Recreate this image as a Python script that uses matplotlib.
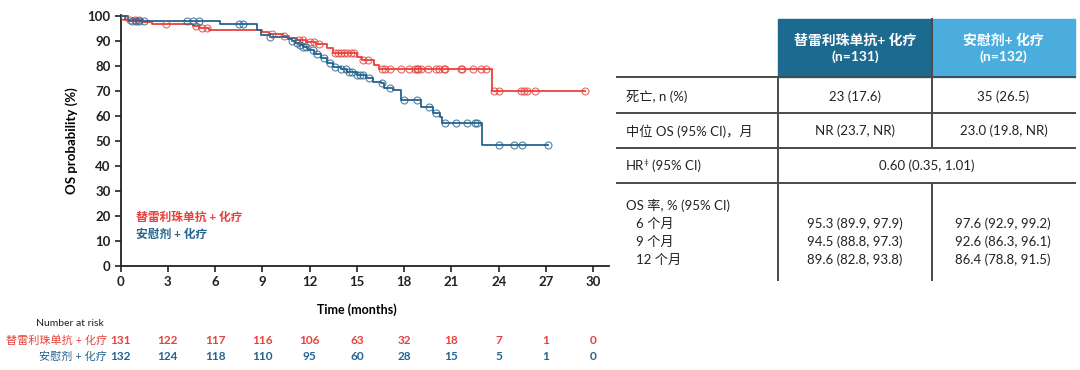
import numpy as np
import matplotlib
matplotlib.use("Agg")
import matplotlib.pyplot as plt
from matplotlib.patches import Rectangle
from matplotlib.lines import Line2D
import matplotlib.transforms as mtransforms

plt.rcParams['font.family'] = ['Lato', 'Noto Sans CJK SC', 'DejaVu Sans']

# KM step data (months, OS %)
tis_t = [0, 0.3, 1.4, 2.0, 4.6, 5.0, 5.6, 9.0, 9.4, 10.3, 10.7, 11.2, 11.8, 12.4,
         13.1, 13.5, 15.0, 15.3, 16.1, 16.4, 23.6]
tis_s = [100, 98.5, 97.7, 96.9, 96.1, 95.3, 94.5, 93.7, 92.9, 92.1, 91.3, 90.5, 89.6, 88.8,
         87.2, 85.2, 83.8, 82.4, 80.6, 78.8, 70.2]
tis_end = 29.5
tis_cens = [0.2, 0.6, 0.9, 1.2, 2.9, 4.8, 5.2, 5.5, 9.6, 10.4, 11.3, 11.6, 12.0, 12.3, 12.6,
            13.6, 13.8, 14.0, 14.2, 14.4, 14.6, 14.8, 15.4, 15.7, 16.6, 16.8, 17.1, 17.8, 18.3,
            18.7, 18.8, 18.9, 19.1, 19.5, 20.0, 20.2, 20.5, 20.6, 21.6, 21.7, 22.4, 22.9, 23.2,
            23.7, 24.0, 25.4, 25.6, 25.8, 26.3, 29.5]

pla_t = [0, 0.5, 6.3, 8.65, 8.9, 9.5, 10.6, 10.9, 11.1, 11.3, 11.6, 11.9, 12.3, 12.7, 13.1,
         13.5, 14.0, 14.4, 15.0, 15.6, 16.0, 16.5, 16.7, 17.3, 17.8, 19.1, 19.8, 20.3, 20.4, 22.95]
pla_s = [100, 98.1, 96.7, 94.4, 92.6, 91.6, 90.8, 90.0, 89.2, 88.4, 87.5, 86.4, 85.0, 83.1, 81.1,
         79.7, 79.0, 77.7, 76.4, 75.1, 73.7, 73.1, 71.1, 70.4, 66.4, 63.7, 61.1, 59.7, 57.1, 48.4]
pla_end = 27.1
pla_cens = [0.1, 0.7, 1.0, 1.2, 1.5, 4.2, 4.6, 5.0, 7.5, 7.8, 9.5, 10.9, 11.2, 11.4, 11.6, 11.8,
            12.2, 12.5, 12.9, 13.3, 13.6, 14.0, 14.3, 14.5, 14.7, 15.0, 15.2, 15.4, 15.8, 16.6,
            17.1, 18.0, 18.8, 19.6, 20.0, 20.6, 21.3, 22.0, 22.5, 22.6, 24.0, 25.0, 25.5, 27.1]

risk_times = [0, 3, 6, 9, 12, 15, 18, 21, 24, 27, 30]
risk_tis = [131, 122, 117, 116, 106, 63, 32, 18, 7, 1, 0]
risk_pla = [132, 124, 118, 110, 95, 60, 28, 15, 5, 1, 0]

arm_tis = "替雷利珠单抗 + 化疗"
arm_pla = "安慰剂 + 化疗"

hdr_cols = ["替雷利珠单抗+ 化疗\n(n=131)", "安慰剂+ 化疗\n(n=132)"]
row_death = ["死亡, n (%)", "23 (17.6)", "35 (26.5)"]
row_median = ["中位 OS (95% CI)，月", "NR (23.7, NR)", "23.0 (19.8, NR)"]
hr_value = "0.60 (0.35, 1.01)"
rate_labels = ["6 个月", "9 个月", "12 个月"]
rate_tis = ["95.3 (89.9, 97.9)", "94.5 (88.8, 97.3)", "89.6 (82.8, 93.8)"]
rate_pla = ["97.6 (92.9, 99.2)", "92.6 (86.3, 96.1)", "86.4 (78.8, 91.5)"]

RED = "#e8413b"
BLUE = "#25638e"
DARK_HDR = "#1c6a8f"
LIGHT_HDR = "#4badde"
LINE_C = "#4a4a4a"

W, H = 1080, 370
fig = plt.figure(figsize=(W / 100, H / 100), dpi=100)

def fx(x):
    return x / W

def fy(y):
    return 1 - y / H

ax = fig.add_axes([fx(120.5), fy(266), fx(609 - 120.5), (266 - 15) / H])
ax.set_xlim(0, 31)
ax.set_ylim(0, 100.4)


def draw_arm(t, s, end, cens, color):
    tt = list(t) + [end]
    ss = list(s) + [s[-1]]
    ax.step(tt, ss, where='post', color=color, lw=1.3, zorder=3)
    idx = np.searchsorted(t, cens, side='right') - 1
    cy = np.array(s)[idx]
    ax.plot(cens, cy, 'o', mfc='none', mec=color, ms=5, mew=0.8, alpha=0.8, zorder=4)


draw_arm(tis_t, tis_s, tis_end, tis_cens, RED)
draw_arm(pla_t, pla_s, pla_end, pla_cens, BLUE)

for sp in ['top', 'right']:
    ax.spines[sp].set_visible(False)
for sp in ['left', 'bottom']:
    ax.spines[sp].set_linewidth(1.3)
    ax.spines[sp].set_color("#222222")
ax.set_xticks(risk_times)
ax.set_yticks(range(0, 101, 10))
ax.tick_params(direction='out', length=4, width=1.2, colors="#222222", labelsize=9.5, pad=3)
for lab in ax.get_xticklabels() + ax.get_yticklabels():
    lab.set_fontweight('bold')
ax.set_ylabel("OS probability (%)", fontsize=9.5, fontweight='bold', labelpad=7)

ax.text(1.0, 19.5, arm_tis, color=RED, fontsize=8.5, fontweight='bold', va='center')
ax.text(1.0, 12.8, arm_pla, color=BLUE, fontsize=8.5, fontweight='bold', va='center')

# number at risk under the axis
trans = mtransforms.blended_transform_factory(ax.transData, fig.transFigure)
fig.text(fx(357), fy(310), "Time (months)", ha='center', va='center', fontsize=9, fontweight='bold')
fig.text(fx(70), fy(324), "Number at risk", ha='center', va='center', fontsize=7.5, color="#222222")
fig.text(fx(107), fy(340), arm_tis, ha='right', va='center', fontsize=8, color=RED)
fig.text(fx(107), fy(356), arm_pla, ha='right', va='center', fontsize=8, color=BLUE)
for t, a, b in zip(risk_times, risk_tis, risk_pla):
    ax.text(t, fy(340), str(a), transform=trans, ha='center', va='center',
            fontsize=8.5, fontweight='bold', color=RED)
    ax.text(t, fy(356), str(b), transform=trans, ha='center', va='center',
            fontsize=8.5, fontweight='bold', color=BLUE)

# summary table on the right
x_left, x_c1, x_c2, x_right = 617, 778, 932, 1075
fig.patches.append(Rectangle((fx(x_c1), fy(77)), fx(x_c2 - x_c1), (77 - 19) / H,
                             transform=fig.transFigure, color=DARK_HDR, zorder=1))
fig.patches.append(Rectangle((fx(x_c2), fy(77)), fx(x_right - x_c2), (77 - 19) / H,
                             transform=fig.transFigure, color=LIGHT_HDR, zorder=1))
fig.text(fx((x_c1 + x_c2) / 2), fy(48), hdr_cols[0], ha='center', va='center', color='white',
         fontsize=10, fontweight='bold', linespacing=1.3)
fig.text(fx((x_c2 + x_right) / 2), fy(48), hdr_cols[1], ha='center', va='center', color='white',
         fontsize=10, fontweight='bold', linespacing=1.3)


def hline(y):
    fig.lines.append(Line2D([fx(x_left), fx(x_right)], [fy(y), fy(y)], transform=fig.transFigure,
                            color=LINE_C, lw=1.4))


def vline(x, y0, y1):
    fig.lines.append(Line2D([fx(x), fx(x)], [fy(y0), fy(y1)], transform=fig.transFigure,
                            color=LINE_C, lw=1.4))


for y in [77.3, 113.3, 148, 183.3]:
    hline(y)
vline(x_c1, 77, 280)
vline(x_c2, 19, 148)
vline(x_c2, 183.3, 280)

lx = 626
tfs = 9.5
for y, row in [(96.5, row_death), (131, row_median)]:
    fig.text(fx(lx), fy(y), row[0], ha='left', va='center', fontsize=tfs, color="#222222")
    fig.text(fx((x_c1 + x_c2) / 2), fy(y), row[1], ha='center', va='center', fontsize=tfs, color="#222222")
    fig.text(fx((x_c2 + x_right) / 2), fy(y), row[2], ha='center', va='center', fontsize=tfs, color="#222222")

fig.text(fx(lx), fy(166), "HR", ha='left', va='center', fontsize=tfs, color="#222222")
fig.text(fx(lx + 17), fy(163), "‡", ha='left', va='center', fontsize=6, color="#222222")
fig.text(fx(lx + 26), fy(166), "(95% CI)", ha='left', va='center', fontsize=tfs, color="#222222")
fig.text(fx((x_c1 + x_right) / 2), fy(166), hr_value, ha='center', va='center', fontsize=tfs, color="#222222")

fig.text(fx(lx), fy(205), "OS 率, % (95% CI)", ha='left', va='center', fontsize=tfs, color="#222222")
for y, lab, a, b in zip([224, 242, 260], rate_labels, rate_tis, rate_pla):
    fig.text(fx(lx + 10), fy(y), lab, ha='left', va='center', fontsize=tfs, color="#222222")
    fig.text(fx(855), fy(y), a, ha='center', va='center', fontsize=tfs, color="#222222")
    fig.text(fx(1003), fy(y), b, ha='center', va='center', fontsize=tfs, color="#222222")

fig.savefig("out.png", dpi=100)
